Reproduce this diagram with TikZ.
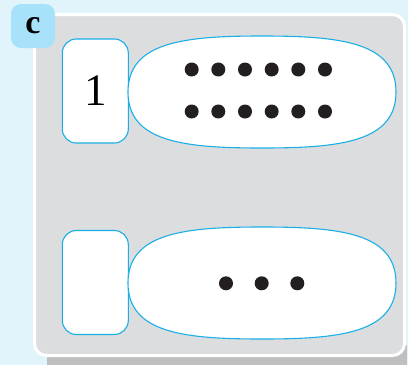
\documentclass[tikz,border=0pt]{standalone}
\usepackage{fontspec}
\setmainfont{Liberation Serif}
\definecolor{bgblue}{HTML}{E1F4FC}
\definecolor{labblue}{HTML}{A8E1FA}
\definecolor{panelgray}{HTML}{DCDDDF}
\definecolor{shadowgray}{HTML}{BEBFC1}
\definecolor{linecyan}{HTML}{1AAFE6}
\definecolor{dotblack}{HTML}{231F20}
\begin{document}
\begin{tikzpicture}[x=1pt,y=-1pt,
  cardbox/.style={draw=linecyan,fill=white,line width=1.1pt,rounded corners=14pt,
    minimum width=66pt,minimum height=104pt,inner sep=0pt},
  blob/.style={draw=linecyan,fill=white,line width=1.1pt},
  dot/.style={circle,fill=dotblack,inner sep=0pt,minimum size=14pt}]
\useasboundingbox (0,0) rectangle (408,365);
\fill[bgblue] (0,0) rectangle (408,365);
% shadow
\fill[shadowgray] (47,345) rectangle (407,365);
% panel
\draw[fill=panelgray,draw=white,line width=3pt,rounded corners=12pt] (34.5,14.5) rectangle (404.5,355.5);
% label
\node[fill=labblue,rounded corners=10pt,minimum width=44pt,minimum height=44pt,inner sep=0pt,
  font=\fontsize{34}{34}\selectfont\bfseries] (lab) at (33,26) {c};
% row 1
\node[cardbox,font=\fontsize{45}{45}\selectfont] (box1) at (95.3,91) {1};
\draw[blob] (128,92) .. controls (128,42) and (184,36) .. (262,36)
  .. controls (340,36) and (396,42) .. (396,92)
  .. controls (396,142) and (340,148) .. (262,148)
  .. controls (184,148) and (128,142) .. (128,92) -- cycle;
\foreach \i/\x in {1/191.7,2/218.3,3/245,4/271.7,5/298.3,6/325}{
  \node[dot] (a\i) at (\x,69.5) {};
  \node[dot] (b\i) at (\x,111.5) {};
}
% row 2
\node[cardbox] (box2) at (95.3,282.5) {};
\draw[blob] (128,283) .. controls (128,233) and (184,227) .. (262,227)
  .. controls (340,227) and (396,233) .. (396,283)
  .. controls (396,333) and (340,339) .. (262,339)
  .. controls (184,339) and (128,333) .. (128,283) -- cycle;
\foreach \i/\x in {1/226,2/261.7,3/297.3}{
  \node[dot] (c\i) at (\x,283.3) {};
}
\end{tikzpicture}
\end{document}
